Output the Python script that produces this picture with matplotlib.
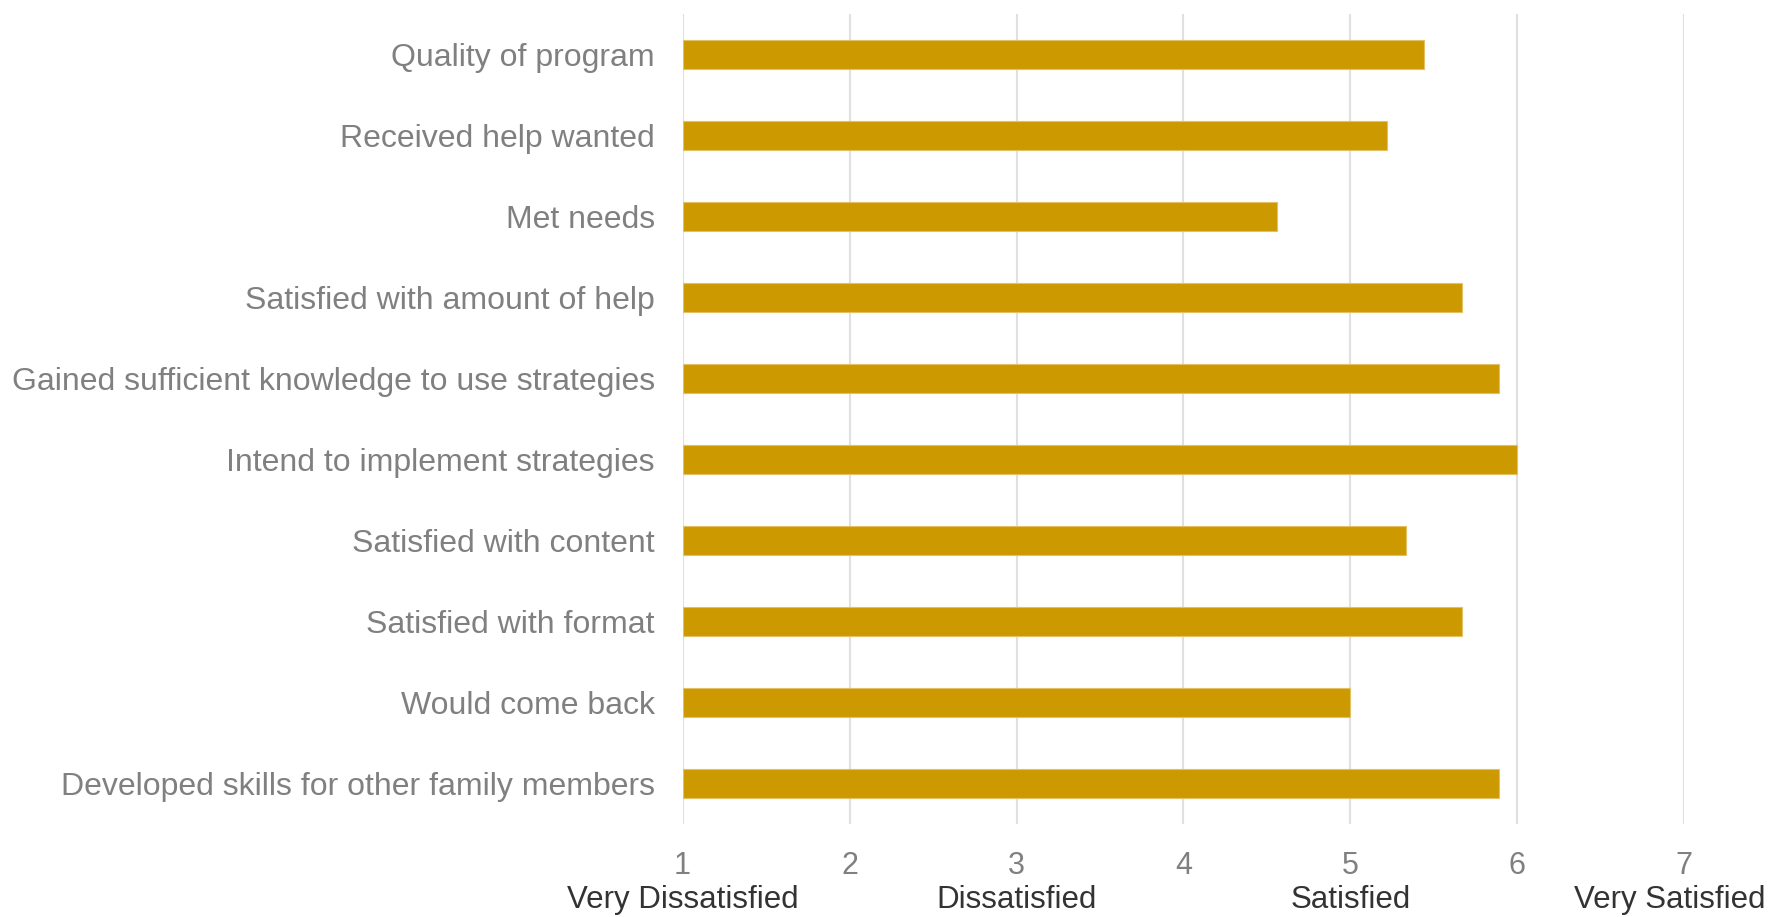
import matplotlib.pyplot as plt
import matplotlib.transforms as mtransforms

# survey items, top to bottom
items = [
    "Quality of program",
    "Received help wanted",
    "Met needs",
    "Satisfied with amount of help",
    "Gained sufficient knowledge to use strategies",
    "Intend to implement strategies",
    "Satisfied with content",
    "Satisfied with format",
    "Would come back",
    "Developed skills for other family members",
]
mean_scores = [5.44, 5.22, 4.56, 5.67, 5.89, 6.00, 5.33, 5.67, 5.00, 5.89]

scale_ticks = [1, 2, 3, 4, 5, 6, 7]
scale_names = {1: "Very Dissatisfied", 3: "Dissatisfied", 5: "Satisfied", 7: "Very Satisfied"}

plt.rcParams['font.family'] = ['Liberation Sans', 'DejaVu Sans']

fig = plt.figure(figsize=(17.73, 9.17), dpi=100)
ax = fig.add_axes([0.385, 0.101, 0.565, 0.884])

ypos = list(range(len(items)))
ax.barh(ypos, [s - 1 for s in mean_scores], left=1, height=0.36,
        color="#CC9900", edgecolor="#e3c063", linewidth=0.8, zorder=3)

ax.set_xlim(1, 7)
ax.set_ylim(len(items) - 0.5, -0.5)
ax.set_xticks(scale_ticks)
ax.set_xticklabels([str(t) for t in scale_ticks])
ax.set_yticks(ypos)
ax.set_yticklabels(items)

ax.grid(axis="x", color="#e0e0e0", linewidth=1.5, zorder=0)
ax.tick_params(axis="both", length=0, colors="#808080")
ax.tick_params(axis="x", pad=19, labelsize=22)
ax.tick_params(axis="y", pad=20, labelsize=23)
for spine in ax.spines.values():
    spine.set_visible(False)

# verbal anchors under the numeric scale
trans = mtransforms.blended_transform_factory(ax.transData, ax.transAxes)
for val, name in scale_names.items():
    if val == scale_ticks[-1]:
        # last one would run off the right edge, so pin it there
        fig.text(0.996, 0.0098, name, ha="right", va="baseline",
                 fontsize=22.5, color="#333333")
    else:
        ax.text(val, -0.1036, name, transform=trans, ha="center", va="baseline",
                fontsize=22.5, color="#333333")

fig.savefig("out.png", dpi=100, facecolor="white")
